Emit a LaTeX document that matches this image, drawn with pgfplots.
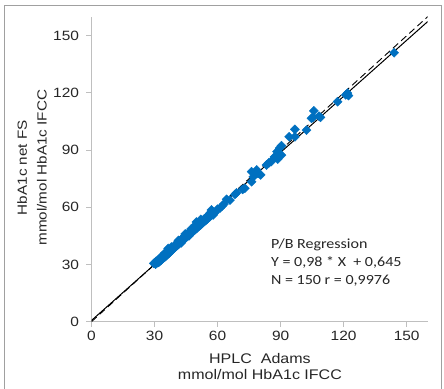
\documentclass[border=0pt]{standalone}
\usepackage{pgfplots}
\pgfplotsset{compat=1.18}
\usepackage{fontspec}
\setmainfont[FakeStretch=1.15]{Liberation Sans}
\newfontfamily\calib[FakeStretch=1.15]{Carlito}
\definecolor{xlblue}{HTML}{0070C0}
\definecolor{axgray}{HTML}{BFBFBF}
\definecolor{framegray}{HTML}{A0A0A0}
\begin{document}
\begin{tikzpicture}
\useasboundingbox (0bp,0bp) rectangle (444bp,389bp);
\draw[framegray, line width=0.8bp] (4bp,0bp) -- (4bp,384bp) -- (441.5bp,384bp) -- (441.5bp,0bp);
\begin{axis}[
  at={(91.5bp,67.3bp)}, anchor=south west,
  scale only axis, width=336.2bp, height=305bp,
  xmin=0, xmax=160, ymin=0, ymax=160,
  axis lines=left, axis line style={-, axgray, line width=1bp},
  xtick={0,30,60,90,120,150}, ytick={0,30,60,90,120,150},
  tick align=outside, major tick length=5bp,
  tick style={axgray, line width=1bp},
  /pgf/number format/assume math mode=true,
  ticklabel style={font=\fontsize{13.5}{16}\selectfont, text=black!85},
  xticklabel style={yshift=-1bp},
  yticklabel style={xshift=-4bp},
  xlabel={HPLC\ \ Adams\\mmol/mol HbA1c IFCC},
  ylabel={HbA1c net FS\\mmol/mol HbA1c IFCC},
  every axis x label/.style={at={(axis description cs:0.501,-0.147)}, anchor=center, align=center, font=\fontsize{14}{17}\selectfont, text=black!85},
  every axis y label/.style={at={(axis description cs:-0.177,0.505)}, anchor=center, rotate=90, align=center, font=\fontsize{13.3}{20}\selectfont, text=black!85},
]
\addplot[black, line width=1bp] coordinates {(0,0.645) (160,157.445)};
\addplot[black, line width=0.9bp, dash pattern=on 7bp off 4bp] coordinates {(0,0) (160,160)};
\addplot[only marks, mark=square*, mark size=3.2bp, color=xlblue, mark options={draw=xlblue, fill=xlblue, rotate=45}] table {
x y
144.0 141.1
121.8 119.9
121.0 119.0
122.3 118.6
117.1 115.4
109.0 107.2
108.3 107.8
105.8 110.6
104.7 106.7
105.5 107.3
102.3 100.5
96.8 100.9
96.8 97.0
94.1 97.0
90.4 92.3
89.5 91.0
88.3 89.2
90.4 87.4
87.1 86.4
88.6 85.3
84.5 83.4
83.3 82.2
85.6 84.0
79.3 77.8
78.6 79.6
76.2 78.7
77.0 76.0
76.2 73.4
80.5 77.0
73.0 70.0
71.9 69.4
69.0 67.6
68.3 66.8
65.9 63.8
64.3 64.2
63.0 61.7
62.1 60.6
61.1 59.5
60.0 59.0
58.6 57.0
57.1 58.6
57.9 56.0
29.6 30.6
30.2 31.0
30.5 30.2
30.9 31.8
31.2 30.9
31.5 32.0
31.8 31.1
32.0 32.6
32.3 31.5
32.6 32.9
33.0 32.1
33.2 33.5
33.5 32.8
33.8 34.0
34.0 33.2
34.3 34.6
34.6 33.8
34.9 35.1
35.2 34.2
35.5 35.6
35.8 34.9
36.1 36.3
36.5 38.4
36.7 35.7
37.0 37.0
37.3 36.4
37.6 37.8
37.9 37.2
38.2 38.5
38.5 37.6
38.8 39.0
39.0 38.3
39.3 39.6
39.6 38.9
39.9 40.3
40.1 39.4
40.4 40.8
40.7 40.0
41.0 41.5
41.2 40.4
41.5 41.8
41.8 41.0
42.0 42.4
42.3 41.6
42.5 42.9
42.8 42.1
43.0 43.4
43.3 42.5
43.5 43.9
43.8 43.0
44.0 44.3
44.3 43.5
44.5 44.8
44.8 44.0
45.0 45.3
45.2 44.4
45.5 45.8
45.7 44.9
46.0 46.3
46.2 45.4
46.5 46.7
46.7 45.9
47.0 47.2
47.2 46.3
47.5 47.7
47.7 46.8
48.0 48.2
48.3 47.3
48.5 48.7
48.8 47.9
49.0 49.3
49.3 48.3
49.6 49.8
49.9 52.3
50.0 48.9
50.3 50.4
50.6 51.8
50.9 49.9
51.2 51.0
51.5 50.4
51.8 51.6
52.1 50.9
52.4 52.5
52.7 51.6
53.0 53.1
53.3 52.2
53.6 53.8
53.9 52.8
54.2 54.2
54.5 53.3
54.8 54.9
55.1 53.9
55.4 55.6
55.7 54.6
56.0 56.3
56.3 55.1
56.6 57.2
56.9 55.8
44.6 46.0
41.4 42.6
38.0 39.2
35.0 36.1
47.4 48.6
52.0 53.6
42.7 41.4
46.4 45.1
33.4 34.3
49.4 50.7
};
\node[anchor=base west, font=\calib\fontsize{14}{17}\selectfont, text=black!85, align=left] at (axis cs:83.8,38.5) {P/B Regression};
\node[anchor=base west, font=\calib\fontsize{14}{17}\selectfont, text=black!85] at (axis cs:83.8,29.05) {Y = 0,98 * X\ \ + 0,645};
\node[anchor=base west, font=\calib\fontsize{14}{17}\selectfont, text=black!85] at (axis cs:83.8,19.6) {N = 150 r = 0,9976};
\end{axis}
\end{tikzpicture}
\end{document}
